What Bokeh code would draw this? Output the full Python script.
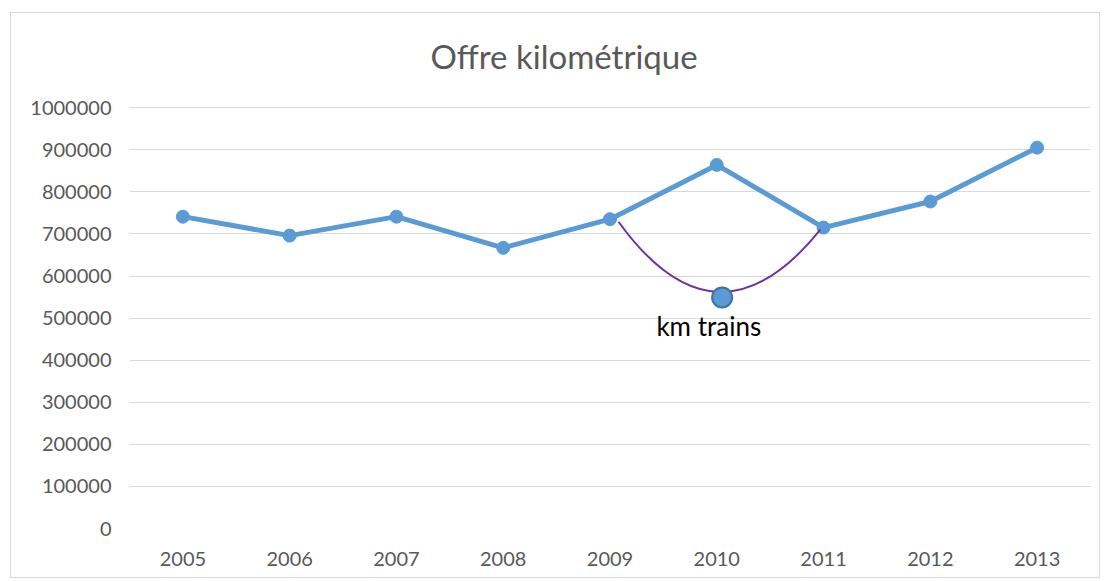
from bokeh.plotting import figure
from bokeh.models import Range1d, FixedTicker, NumeralTickFormatter, Label
from bokeh.core.properties import value
from bokeh.embed import file_html
from bokeh.resources import INLINE

years = [2005, 2006, 2007, 2008, 2009, 2010, 2011, 2012, 2013]
km = [741000, 696000, 741000, 667000, 735000, 864000, 715000, 777000, 905000]
y_ticks = [0, 100000, 200000, 300000, 400000, 500000, 600000, 700000, 800000, 900000, 1000000]
title_text = "Offre kilométrique"

# annotation ("km trains" label with leader curve)
ann_x = 2010
ann_y = 549000
curve_x0, curve_y0 = 2009.08, 729000
curve_x1, curve_y1 = 2010.97, 710000
curve_cx, curve_cy = 2010.0, 405000
ann_text = "km trains"

FONT = "Lato"
GREY = "#595959"

# y range extends above the top tick to leave room for the title inside the frame
p = figure(width=1090, height=566, output_backend="svg", toolbar_location=None,
           x_range=Range1d(2004.5, 2013.5), y_range=Range1d(0, 1200000),
           min_border_left=118, min_border_right=11, min_border_top=10, min_border_bottom=51)
p.styles = {"border": "1px solid #d9d9d9", "margin-left": "10px", "margin-top": "12px"}

# chart title, centred on the whole chart area (not on the plot frame)
p.add_layout(Label(x=2008.57, y=1123500, text=title_text, text_align="center",
                   text_baseline="middle", text_font=FONT, text_font_size="33px",
                   text_color=GREY))

p.outline_line_color = None
p.xgrid.grid_line_color = None
p.ygrid.grid_line_color = "#d9d9d9"
p.ygrid.grid_line_width = 1

p.xaxis.ticker = FixedTicker(ticks=years)
p.yaxis.ticker = FixedTicker(ticks=y_ticks)
p.yaxis.formatter = NumeralTickFormatter(format="0")
for ax in (p.xaxis[0], p.yaxis[0]):
    ax.axis_line_color = None
    ax.major_tick_line_color = None
    ax.minor_tick_line_color = None
    ax.major_tick_out = 0
    ax.major_tick_in = 0
    ax.major_label_text_font = FONT
    ax.major_label_text_font_size = "20px"
    ax.major_label_text_color = GREY
p.yaxis.major_label_standoff = 18
p.xaxis.major_label_standoff = 23

p.line(years, km, line_color="#5B9BD5", line_width=5)
p.scatter(years, km, size=13, fill_color="#5B9BD5", line_color="#5B9BD5")

p.quadratic(x0=[curve_x0], y0=[curve_y0], x1=[curve_x1], y1=[curve_y1],
            cx=[curve_cx], cy=[curve_cy], line_color="#7030A0", line_width=2)
p.scatter([ann_x + 0.05], [ann_y], size=20, fill_color="#5B9BD5", line_color="#41719C", line_width=2)
p.text([ann_x], [ann_y], text=[ann_text], text_align="center", text_baseline="top",
       x_offset=-8, y_offset=13, text_font=value(FONT), text_font_size="26px", text_color="#000000")

open("out.html", "w").write(file_html(p, INLINE))
